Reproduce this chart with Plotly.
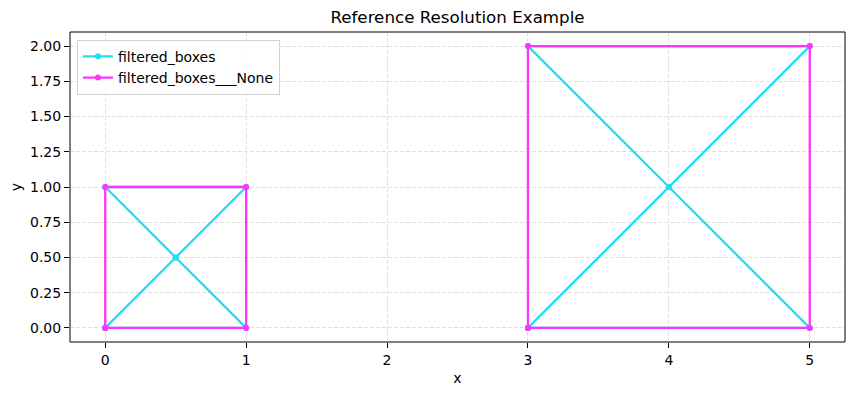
import plotly.graph_objects as go

# Data
cyan_x = [0, 1, 0.5, 0, 1, 0.5, 0, None, 3, 5, 4, 3, 5, 4, 3]
cyan_y = [0, 0, 0.5, 1, 1, 0.5, 0, None, 0, 0, 1, 2, 2, 1, 0]
mag_x = [0, 1, 1, 0, 0, None, 3, 5, 5, 3, 3]
mag_y = [0, 0, 1, 1, 0, None, 0, 0, 2, 2, 0]
x_ticks = [0, 1, 2, 3, 4, 5]
y_ticks = [0, 0.25, 0.5, 0.75, 1.0, 1.25, 1.5, 1.75, 2.0]

CYAN = "rgb(34,221,245)"
MAGENTA = "rgb(255,51,255)"
FONT = "DejaVu Sans"

fig = go.Figure()
fig.add_trace(go.Scatter(x=cyan_x, y=cyan_y, mode="lines+markers", name="filtered_boxes",
                         line=dict(color=CYAN, width=2.3), marker=dict(color=CYAN, size=6),
                         connectgaps=False))
fig.add_trace(go.Scatter(x=mag_x, y=mag_y, mode="lines+markers", name="filtered_boxes___None",
                         line=dict(color=MAGENTA, width=2.3), marker=dict(color=MAGENTA, size=6),
                         connectgaps=False))

axis_common = dict(showline=False, ticks="outside", ticklen=5, tickcolor="black",
                   showgrid=True, gridcolor="rgb(224,224,224)", griddash="4px,2px", gridwidth=1,
                   zeroline=False, tickfont=dict(family=FONT, size=14, color="black"))

# The page body has an 8px default margin; compensate so the figure fills the window
fig.update_layout(
    width=847, height=387,
    margin=dict(l=62, r=10, t=24, b=53, autoexpand=False),
    paper_bgcolor="white", plot_bgcolor="white",
    title=dict(text="Reference Resolution Example", x=0.5, xanchor="center", xref="paper",
               y=1 - 9 / 387, yanchor="middle",
               font=dict(family=FONT, size=16.7, color="black")),
    font=dict(family=FONT, size=14, color="black"),
    legend=dict(x=0.009, y=0.975, xanchor="left", yanchor="top", bgcolor="rgba(255,255,255,0.8)",
                bordercolor="rgb(210,210,210)", borderwidth=1, font=dict(family=FONT, size=14),
                tracegroupgap=0, itemwidth=30),
    xaxis=dict(range=[-0.25, 5.25], tickvals=x_ticks, ticktext=[str(v) for v in x_ticks],
               title=dict(text="x", font=dict(family=FONT, size=14), standoff=6), **axis_common),
    yaxis=dict(range=[-0.1, 2.1], tickvals=y_ticks, ticktext=[f"{v:.2f}" for v in y_ticks],
               title=dict(text="y", font=dict(family=FONT, size=14), standoff=8), **axis_common),
    shapes=[dict(type="rect", xref="paper", yref="paper", x0=0, y0=0, x1=1, y1=1,
                 line=dict(color="black", width=1), layer="above")],
)

fig.write_html("out.html")
